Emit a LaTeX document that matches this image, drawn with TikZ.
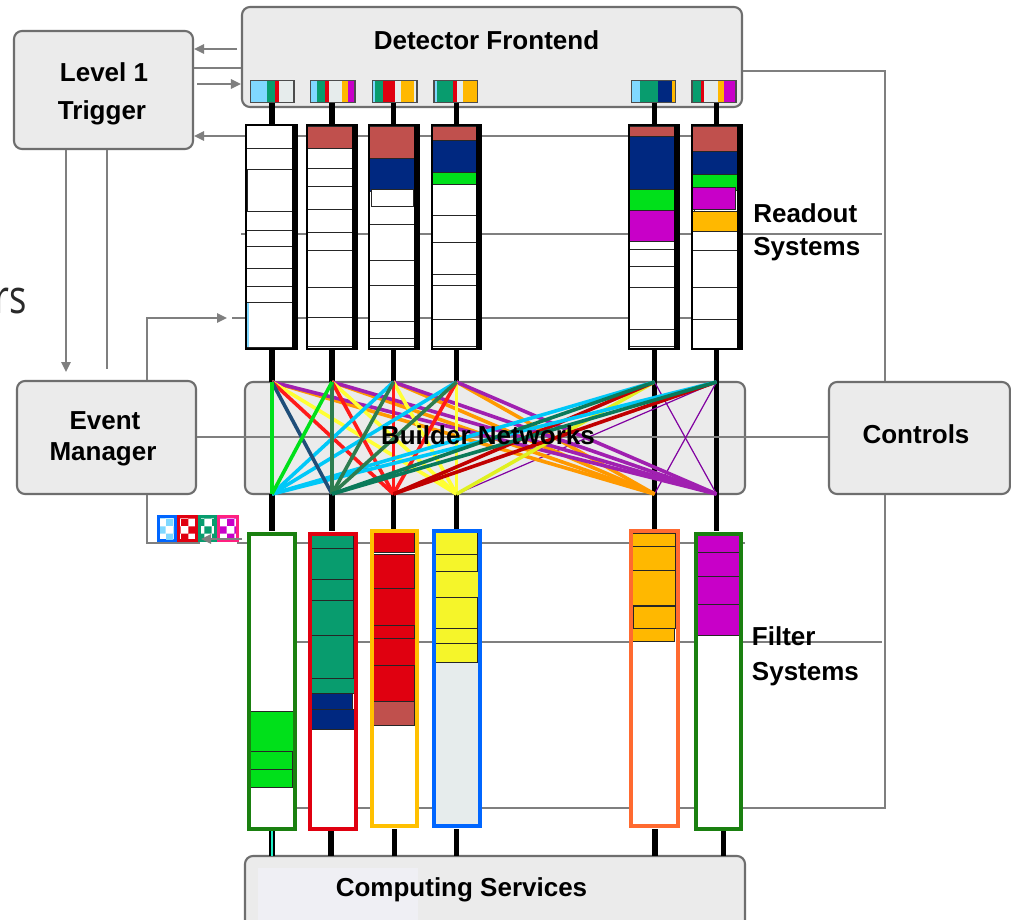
\documentclass[tikz,border=0pt]{standalone}
\usepackage{fontspec}
\setmainfont{Liberation Sans}
\newfontfamily\rsfont{Open Sans}
\usetikzlibrary{arrows.meta,patterns}
\definecolor{lblue}{HTML}{80D8FF}
\definecolor{cteal}{HTML}{089C6E}
\definecolor{cred}{HTML}{E00010}
\definecolor{clgray}{HTML}{E6ECEC}
\definecolor{corange}{HTML}{FFB800}
\definecolor{cmag}{HTML}{C800C8}
\definecolor{cnavy}{HTML}{002880}
\definecolor{cbrick}{HTML}{C0504D}
\definecolor{cgreen}{HTML}{00E01A}
\definecolor{cyellow}{HTML}{F5F52A}
\definecolor{fblue}{HTML}{0066FF}
\definecolor{forange}{HTML}{FF6A30}
\definecolor{fyellow}{HTML}{FFC000}
\definecolor{fgreen}{HTML}{1A8010}
\definecolor{cpink}{HTML}{FF2080}
\definecolor{boxgray}{HTML}{6E6E6E}
\definecolor{boxfill}{HTML}{EBEBEB}
\definecolor{linegray}{HTML}{7F7F7F}
\definecolor{csfill}{HTML}{EFEFF4}
\definecolor{lcyan}{HTML}{00C8F8}
\definecolor{lnavy}{HTML}{1F4E79}
\definecolor{ldgreen}{HTML}{2E7D4F}
\definecolor{lteal}{HTML}{0A7A5A}
\definecolor{lred}{HTML}{FF1A1A}
\definecolor{ldred}{HTML}{C00000}
\definecolor{lyellow}{HTML}{FFFF33}
\definecolor{lygreen}{HTML}{E0F020}
\definecolor{lorange}{HTML}{FF9900}
\definecolor{lpurple}{HTML}{A020B0}
\definecolor{tpurple}{HTML}{8000A0}
\definecolor{mint}{HTML}{20F0C8}
\definecolor{rsgray}{HTML}{2A2A2A}
\tikzset{
  pbox/.style={draw=boxgray, line width=1.6pt, rounded corners=6pt, fill=boxfill, inner sep=0pt},
  lbl/.style={font=\fontsize{19.5}{23}\selectfont\bfseries, inner sep=0pt},
  gl/.style={draw=linegray, line width=1.5pt},
  ga/.style={gl, -{Triangle[length=7.5pt,width=7pt]}},
  conn/.style={draw=black, line width=3.8pt},
  net/.style={line width=2.7pt},
  thinnet/.style={line width=0.9pt, draw=tpurple},
  sbox/.style={draw=black!85, line width=0.6pt}
}
\newcommand{\rbox}[5]{\filldraw[sbox, fill=#5] (#1,#3) rectangle (#2,#4);}
\newcommand{\stp}[3]{\fill[#3] (#1,80.5) rectangle (#2,102.5);}
\newcommand{\sbx}[2]{\draw[draw=black!70, line width=0.9pt] (#1,80.5) rectangle (#2,102.5);}
\newcommand{\rofrm}[2]{\draw[black, line width=1.5pt] (#1,125) rectangle (#2,349);
  \draw[black, line width=3.6pt] ({#2-2.4},125) -- ({#2-2.4},349.5);}
\newcommand{\ffrm}[5]{\draw[#5, line width=3pt] ({#1+2},{#3+2}) rectangle ({#2-2},{#4-2});}
\begin{document}
\begin{tikzpicture}[x=0.75pt,y=-0.75pt]
\useasboundingbox (0,0) rectangle (1011,920);
\fill[white] (0,0) rectangle (1011,920);

% ---------- main boxes ----------
\node[pbox, minimum width=179*0.75pt, minimum height=118*0.75pt] (L1) at (103.5,90) {};
\node[pbox, minimum width=500*0.75pt, minimum height=100*0.75pt] (DF) at (492,57) {};
\node[pbox, minimum width=179*0.75pt, minimum height=113*0.75pt] (EM) at (106.5,437.5) {};
\node[pbox, minimum width=500*0.75pt, minimum height=112*0.75pt] (BN) at (495,438) {};
\node[pbox, minimum width=181*0.75pt, minimum height=112*0.75pt] (CT) at (919.5,438) {};
\node[pbox, minimum width=500*0.75pt, minimum height=90*0.75pt] (CS) at (495,901) {};
\fill[csfill] (258,868) rectangle (418,925);

% ---------- stray slide text ----------
\node[font=\rsfont\fontsize{35}{40}\selectfont, text=rsgray, anchor=base east, inner sep=0pt, xscale=0.78, transform shape] (rs) at (27,313) {rs};

% ---------- column coordinates ----------
\foreach \i/\x in {1/272,2/332,3/393.5,4/456.5,5/654.5,6/716.5} {
  \coordinate (a\i) at (\x,103);
  \coordinate (b\i) at (\x,125);
  \coordinate (c\i) at (\x,349);
  \coordinate (T\i) at (\x,382);
  \coordinate (B\i) at (\x,494);
  \coordinate (f\i) at (\x,531);
}
\foreach \i/\x in {1/272,2/331,3/394.3,4/456.7,5/655,6/723.3} {
  \coordinate (g\i) at (\x,829);
  \coordinate (h\i) at (\x,856);
}

% ---------- gray control lines ----------
\draw[ga] (237,49) -- (L1.east |- 0,49);
\draw[gl] (L1.east |- 0,68) -- (DF.west |- 0,68);
\draw[ga] (197,84) -- (DF.west |- 0,84);
\draw[gl] (692,136) -- (246,136);
\draw[ga] (246,136) -- (L1.east |- 0,136);
\draw[ga] (L1.south -| 66,0) -- (66,372);
\draw[gl] (L1.south -| 107,0) -- (107,369);
\draw[ga] (EM.north -| 147,0) |- (227,318);
\draw[gl] (232,318) -- (692,318);
\draw[gl] (241,234) -- (882,234);
\draw[gl] (DF.east |- 0,71) -| (CT.north -| 885,0);
\draw[gl] (CT.south -| 885,0) |- (297,808);
\draw[gl] (260,642) -- (882,642);
\draw[gl] (EM.south -| 147,0) |- (200,543);
\draw[gl] (237,543) -- (745,543);

% ---------- small boxes in detector frontend ----------
\stp{250.7}{266.7}{lblue}\stp{266.7}{275}{cteal}\stp{275}{279}{cred}\stp{279}{293}{clgray}\stp{293}{294}{corange}\sbx{250.7}{294}
\stp{310.7}{317}{lblue}\stp{317}{325}{cteal}\stp{325}{328.7}{cred}\stp{328.7}{342}{clgray}\stp{342}{348.3}{corange}\stp{348.3}{355}{cmag}\sbx{310.7}{355}
\stp{372.7}{375}{lblue}\stp{375}{383.3}{cteal}\stp{383.3}{395}{cred}\stp{395}{401}{clgray}\stp{401}{414}{corange}\stp{414}{417}{clgray}\sbx{372.7}{417}
\stp{434}{436.7}{lblue}\stp{436.7}{453.3}{cteal}\stp{453.3}{457}{cred}\stp{457}{463.3}{clgray}\stp{463.3}{476.7}{corange}\sbx{434}{477.7}
\stp{631.7}{640}{lblue}\stp{640}{658.3}{cteal}\stp{658.3}{671.7}{cnavy}\stp{671.7}{674.5}{corange}\stp{674.5}{675.7}{clgray}\sbx{631.7}{675.7}
\stp{692}{701}{cteal}\stp{701}{704}{cred}\stp{704}{718}{clgray}\stp{718}{724}{corange}\stp{724}{735}{cmag}\stp{735}{736}{clgray}\sbx{692}{736}

% ---------- black connectors ----------
\foreach \i in {1,...,6} { \draw[conn] (a\i) -- (b\i); }
\foreach \i in {1,...,4} { \draw[conn] (c\i) -- (T\i); \draw[conn] (B\i) -- (f\i); }
\foreach \i in {5,6} { \draw[conn] (c\i) -- (f\i); }
\draw[black, line width=4pt] (g1) -- (h1);
\draw[mint, line width=2.2pt] (g1) -- (h1);
\foreach \i in {2,...,6} { \draw[conn] (g\i) -- (h\i); }

% ---------- readout columns ----------
% col 1
\fill[white] (246,125) rectangle (297,349);
\rbox{246}{292.5}{125}{148.3}{white}
\rbox{246}{294}{148.3}{169}{white}
\rbox{247.5}{294}{169}{211.7}{white}
\rbox{246}{294}{211.7}{230}{white}
\rbox{246}{294}{230}{246}{white}
\rbox{246}{294}{246}{268.3}{white}
\rbox{246}{294}{268.3}{286.7}{white}
\rbox{246}{294}{286.7}{302.3}{white}
\rbox{247}{296}{302.3}{347.3}{white}
\draw[lblue, line width=1pt] (248,303) -- (248,347);
\rofrm{246}{297}
% col 2
\fill[white] (307,125) rectangle (357,349);
\rbox{307}{355}{126.7}{148.3}{cbrick}
\rbox{307}{353}{148.3}{168.3}{white}
\rbox{307}{353}{168.3}{186}{white}
\rbox{307}{355}{186}{209.3}{white}
\rbox{307}{355}{209.3}{232.7}{white}
\rbox{307}{355}{232.7}{250.7}{white}
\rbox{307}{355}{250.7}{287.3}{white}
\rbox{307}{355}{287.3}{317.3}{white}
\rbox{307}{355}{317.3}{346.7}{white}
\rofrm{307}{357}
% col 3
\fill[white] (369,125) rectangle (419,349);
\rbox{369}{417}{126.7}{158.3}{cbrick}
\rbox{369}{417}{158.3}{191.7}{cnavy}
\rbox{369}{417}{191.7}{224.3}{white}
\rbox{371}{413.3}{189}{206}{white}
\rbox{369}{417}{224.3}{260}{white}
\rbox{369}{417}{260}{285.7}{white}
\rbox{369}{417}{285.7}{321}{white}
\rbox{369}{417}{321}{338.7}{white}
\rbox{369}{417}{338.7}{346.7}{white}
\rofrm{369}{419}
% col 4
\fill[white] (432,125) rectangle (481,349);
\rbox{432}{479}{126.7}{140}{cbrick}
\rbox{432}{479}{140}{172.7}{cnavy}
\rbox{432}{479}{172.7}{184}{cgreen}
\rbox{432}{477}{184}{215}{white}
\rbox{432}{479}{215}{242.7}{white}
\rbox{432}{479}{242.7}{274}{white}
\rbox{432}{477}{274}{285.7}{white}
\rbox{432}{479}{285.7}{319}{white}
\rbox{432}{479}{319}{346.7}{white}
\rofrm{432}{481}
% col 5
\fill[white] (629,125) rectangle (679,349);
\rbox{629}{677}{126.7}{136.7}{cbrick}
\rbox{629}{677}{136.7}{189.3}{cnavy}
\rbox{629}{675.7}{189.3}{210}{cgreen}
\rbox{629}{677}{210}{241}{cmag}
\rbox{629}{677}{241}{249.3}{white}
\rbox{629}{677}{249.3}{266}{white}
\rbox{629}{677}{266}{287.7}{white}
\rbox{629}{677}{287.7}{329.3}{white}
\rbox{629}{677}{329.3}{346.7}{white}
\rofrm{629}{679}
% col 6
\fill[white] (692,125) rectangle (742,349);
\rbox{692}{739}{126.7}{151.7}{cbrick}
\rbox{692}{739}{151.7}{174}{cnavy}
\rbox{692}{739}{174}{190.7}{cgreen}
\rbox{694}{738}{190}{211}{white}
\rbox{692}{735.7}{187.7}{209}{cmag}
\rbox{692}{739}{211.7}{231}{corange}
\rbox{692}{739}{231}{250}{white}
\rbox{692}{739}{250}{287.7}{white}
\rbox{692}{739}{287.7}{319}{white}
\rbox{692}{739}{319}{348.3}{white}
\rofrm{692}{742}

% ---------- filter columns ----------
% f1
\fill[white] (247,531.7) rectangle (297,831);
\rbox{248}{294.3}{711}{751.7}{cgreen}
\rbox{250.7}{292.7}{751.7}{769.3}{cgreen}
\rbox{250}{292.7}{769.3}{787.3}{cgreen}
\ffrm{247}{297}{531.7}{831}{fgreen}
% f2
\fill[white] (307.5,531.7) rectangle (357.5,831);
\rbox{310}{353.3}{533.3}{548.3}{cteal}
\rbox{310}{353.3}{548.3}{579}{cteal}
\rbox{310}{353.3}{579}{600}{cteal}
\rbox{310}{353.3}{600}{635}{cteal}
\rbox{310}{353.3}{635}{678.3}{cteal}
\rbox{310}{354.3}{678.3}{693.3}{cteal}
\rbox{310}{352.7}{693.3}{709.3}{cnavy}
\rbox{310}{354.3}{709.3}{729.3}{cnavy}
\ffrm{307.5}{357.5}{531.7}{831}{cred}
% f3
\fill[white] (370,529.3) rectangle (419.3,828.3);
\rbox{371.7}{414}{532.3}{552.3}{cred}
\rbox{371.7}{414}{554}{590}{cred}
\rbox{372.7}{415}{588.3}{625}{cred}
\rbox{371.7}{414}{625}{638.3}{cred}
\rbox{372}{415}{638.3}{665}{cred}
\rbox{373.3}{414}{665}{701.7}{cred}
\rbox{373.3}{414}{701.7}{725.7}{cbrick}
\ffrm{370}{419.3}{529.3}{828.3}{fyellow}
% f4
\fill[clgray] (432.3,529.3) rectangle (481.7,828.3);
\rbox{434.7}{477.3}{532.3}{554}{cyellow}
\rbox{434.7}{477}{554}{571.7}{cyellow}
\rbox{433.7}{478}{571.7}{597.3}{cyellow}
\rbox{434}{477.3}{597.3}{628.3}{cyellow}
\rbox{433.7}{477.3}{628.3}{643.3}{cyellow}
\rbox{433.7}{477.3}{643.3}{662.3}{cyellow}
\ffrm{432.3}{481.7}{529.3}{828.3}{fblue}
% f5
\fill[white] (629.3,529.3) rectangle (680,828.3);
\rbox{632.3}{675.3}{533.3}{546.7}{corange}
\rbox{632.3}{675.3}{546.7}{570.7}{corange}
\rbox{632.3}{675.3}{570.7}{605.7}{corange}
\rbox{633}{675}{606.7}{628.3}{corange}
\rbox{632}{674.3}{628.3}{641.7}{corange}
\ffrm{629.3}{680}{529.3}{828.3}{forange}
% f6
\fill[white] (694,531.7) rectangle (743.3,830.7);
\rbox{696.7}{740}{533.3}{552.3}{cmag}
\rbox{696.7}{740}{552.3}{576.7}{cmag}
\rbox{696.7}{739}{576.7}{604.3}{cmag}
\rbox{697.3}{739.7}{604.3}{635}{cmag}
\ffrm{694}{743.3}{531.7}{830.7}{fgreen}

% ---------- event manager output tokens ----------
\fill[fblue] (157,515) rectangle (177,542);
\fill[white] (160,518) rectangle (174,539);
\fill[pattern=checkerboard, pattern color=lblue] (160,518) rectangle (174,539);
\fill[cred] (177,515) rectangle (198,542);
\fill[white] (180,518) rectangle (195,539);
\fill[pattern=checkerboard, pattern color=cred] (180,518) rectangle (195,539);
\fill[cteal] (198,515) rectangle (217,542);
\fill[white] (201,518) rectangle (214,539);
\fill[pattern=checkerboard, pattern color=cteal] (201,518) rectangle (214,539);
\fill[cpink] (217,515) rectangle (239,542);
\fill[white] (220,518) rectangle (236,539);
\fill[pattern=checkerboard, pattern color=cmag] (220,518) rectangle (236,539);
\draw[ga] (242,539) -- (201,539);

% ---------- builder network ----------
\draw[gl] (EM.east |- 0,437) -- (CT.west |- 0,437);
\draw[thinnet] (T6) -- (B4);
\draw[thinnet] (T6) -- (B5);
\draw[thinnet] (T5) -- (B6);
\draw[net, lorange] (T1) -- (B5);
\draw[net, lorange] (T2) -- (B5);
\draw[net, lorange] (T3) -- (B5);
\draw[net, lorange] (T4) -- (B5);
\draw[net, lpurple] (T1) -- (B6);
\draw[net, lpurple] (T2) -- (B6);
\draw[net, lpurple] (T3) -- (B6);
\draw[net, lpurple] (T4) -- (B6);
\draw[net, lyellow] (T1) -- (B4);
\draw[net, lyellow] (T2) -- (B4);
\draw[net, lyellow] (T3) -- (B4);
\draw[net, lyellow] (T4) -- (B4);
\draw[net, lygreen] (T5) -- (B4);
\draw[net, lred] (T1) -- (B3);
\draw[net, lred] (T2) -- (B3);
\draw[net, lred] (T3) -- (B3);
\draw[net, lred] (T4) -- (B3);
\draw[net, ldred] (T5) -- (B3);
\draw[net, ldred] (T6) -- (B3);
\draw[net, lcyan] (T3) -- (B1);
\draw[net, lcyan] (T4) -- (B1);
\draw[net, lcyan] (T5) -- (B1);
\draw[net, lcyan] (T6) -- (B1);
\draw[net, lnavy] (T1) -- (B2);
\draw[net, ldgreen] (T2) -- (B2);
\draw[net, ldgreen] (T3) -- (B2);
\draw[net, ldgreen] (T4) -- (B2);
\draw[net, lteal] (T5) -- (B2);
\draw[net, lteal] (T6) -- (B2);
\draw[net, cgreen] (T1) -- (B1);
\draw[net, cgreen] (T2) -- (B1);

% ---------- labels ----------
\node[lbl, anchor=base] (tDF) at (486.5,50) {Detector Frontend};
\node[lbl, anchor=base] (tL1a) at (104,82) {Level 1};
\node[lbl, anchor=base] (tL1b) at (102,119.5) {Trigger};
\node[lbl, anchor=base] (tEMa) at (105,429) {Event};
\node[lbl, anchor=base] (tEMb) at (103,460) {Manager};
\node[lbl, anchor=base] (tCT) at (916,443.3) {Controls};
\node[lbl, anchor=base west] (tROa) at (753,222.5) {Readout};
\node[lbl, anchor=base west] (tROb) at (753,255.5) {Systems};
\node[lbl, anchor=base west] (tFSa) at (751.7,645) {Filter};
\node[lbl, anchor=base west] (tFSb) at (751.7,680) {Systems};
\node[lbl, anchor=base] (tBN) at (488,444) {Builder Networks};
\node[lbl, anchor=base] (tCS) at (461.5,896.5) {Computing Services};
\end{tikzpicture}
\end{document}
